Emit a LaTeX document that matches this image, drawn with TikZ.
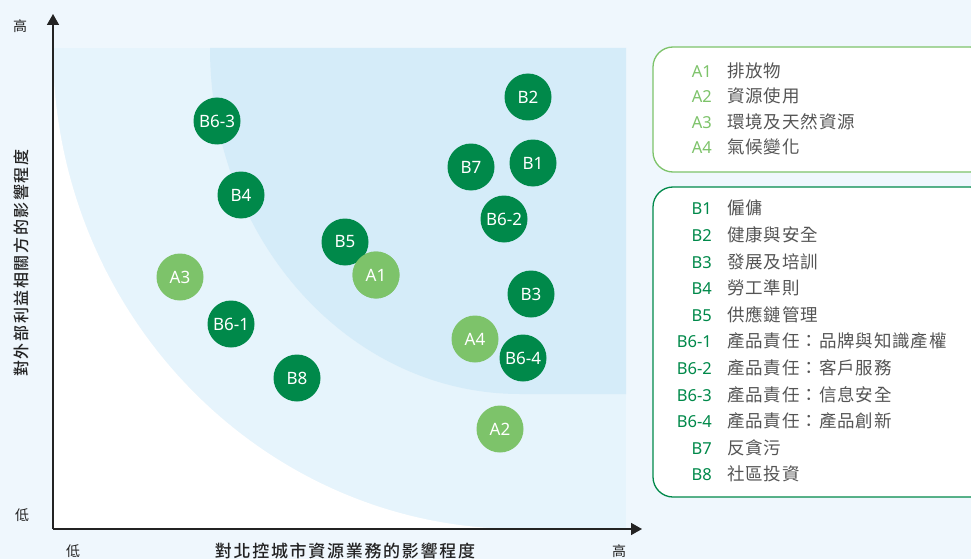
\documentclass[tikz,border=0pt]{standalone}
\usepackage{fontspec}
\setmainfont{Noto Sans}
\newfontfamily\cjk{Noto Sans CJK TC}
\newfontfamily\cjkmid{Noto Sans CJK TC Medium}[LetterSpace=10]
\newfontfamily\cjkwide{Noto Sans CJK TC}[LetterSpace=5]
\usetikzlibrary{arrows.meta}
\definecolor{pagebg}{RGB}{239,247,253}
\definecolor{midband}{RGB}{230,244,252}
\definecolor{innerband}{RGB}{213,236,249}
\definecolor{darkgreen}{RGB}{0,137,74}
\definecolor{lightgreen}{RGB}{125,195,106}
\definecolor{keygray}{RGB}{85,85,85}
\definecolor{axisdark}{RGB}{35,35,35}
\tikzset{
    topic/.style={circle, minimum size=47pt, inner sep=0pt, text=white, font=\fontsize{17}{17}\selectfont},
    keycode/.style={anchor=base east, inner sep=0pt, font=\fontsize{16.5}{16.5}\selectfont},
    keytext/.style={anchor=base west, inner sep=0pt, text=keygray, font=\cjkwide\fontsize{17.5}{17.5}\selectfont},
    axislabel/.style={text=axisdark, inner sep=0pt, font=\cjkmid\fontsize{17}{17}\selectfont},
    endlabel/.style={text=axisdark, inner sep=0pt, font=\cjk\fontsize{14}{14}\selectfont},
    keybox/.style={rounded corners=20pt, fill=white, line width=1.3pt},
}
\newcommand{\drawtopic}[4]{
    % Bubble
    \node[topic, fill=#4] (t#3) at (#1,#2) {#3};
}
\newcommand{\drawkey}[4]{
    % Code and name
    \node[keycode, text=#3] (c#1) at (712,#2) {#1};
    \node[keytext] (d#1) at (727,#2) {#4};
}

\begin{document}
\begin{tikzpicture}[x=1pt, y=-1pt]
        \useasboundingbox (0,0) rectangle (971,559);
        \clip (0,0) rectangle (971,559);
        \fill[pagebg] (0,0) rectangle (971,559);

        % Bands of the matrix
        \fill[midband] (53,48) rectangle (626,529);
        \fill[white] (53,48) arc[start angle=180, end angle=90, x radius=467, y radius=481] -- (53,529) -- cycle;
        \fill[innerband] (210,48) arc[start angle=180, end angle=90, x radius=310, y radius=346] -- (626,394) -- (626,48) -- cycle;

        % Axes
        \coordinate (origin) at (53,529);
        \coordinate (ytop) at (53,14);
        \coordinate (xend) at (642,529);
        \draw[axisdark, line width=1.6pt, -{Triangle[width=12pt, length=11pt]}] (origin) -- (ytop);
        \draw[axisdark, line width=1.6pt, -{Triangle[width=12pt, length=11pt]}] (origin) -- (xend);

        % Axis labels
        \node[endlabel] (yhigh) at (20,26) {高};
        \node[endlabel] (ylow) at (22,515) {低};
        \node[endlabel] (xlow) at (73,551) {低};
        \node[endlabel] (xhigh) at (619,551) {高};
        \node[axislabel, rotate=90, font=\cjkmid\fontsize{16}{16}\selectfont] (ytitle) at (21,263) {對外部利益相關方的影響程度};
        \node[axislabel] (xtitle) at (345,551) {對北控城市資源業務的影響程度};

        % Environmental topics
        \drawtopic{376}{275}{A1}{lightgreen}
        \drawtopic{500}{429}{A2}{lightgreen}
        \drawtopic{180}{277}{A3}{lightgreen}
        \drawtopic{475}{339}{A4}{lightgreen}

        % Social topics
        \drawtopic{533}{163}{B1}{darkgreen}
        \drawtopic{528}{97}{B2}{darkgreen}
        \drawtopic{531}{294}{B3}{darkgreen}
        \drawtopic{241}{195}{B4}{darkgreen}
        \drawtopic{345}{242}{B5}{darkgreen}
        \drawtopic{231}{324}{B6-1}{darkgreen}
        \drawtopic{504}{219}{B6-2}{darkgreen}
        \drawtopic{217}{121}{B6-3}{darkgreen}
        \drawtopic{523}{358}{B6-4}{darkgreen}
        \drawtopic{471}{167}{B7}{darkgreen}
        \drawtopic{297}{378}{B8}{darkgreen}

        % A1 sits on top of B5
        \drawtopic{376}{275}{A1}{lightgreen}

        % Legend boxes
        \draw[keybox, draw=lightgreen] (653,47) rectangle (990,172);
        \draw[keybox, draw=darkgreen] (653,187) rectangle (990,497);

        \drawkey{A1}{77.5}{lightgreen}{排放物}
        \drawkey{A2}{102.8}{lightgreen}{資源使用}
        \drawkey{A3}{128.1}{lightgreen}{環境及天然資源}
        \drawkey{A4}{153.4}{lightgreen}{氣候變化}

        \drawkey{B1}{214.8}{darkgreen}{僱傭}
        \drawkey{B2}{241.4}{darkgreen}{健康與安全}
        \drawkey{B3}{268.0}{darkgreen}{發展及培訓}
        \drawkey{B4}{294.6}{darkgreen}{勞工準則}
        \drawkey{B5}{321.2}{darkgreen}{供應鏈管理}
        \drawkey{B6-1}{347.8}{darkgreen}{產品責任：品牌與知識產權}
        \drawkey{B6-2}{374.4}{darkgreen}{產品責任：客戶服務}
        \drawkey{B6-3}{401.0}{darkgreen}{產品責任：信息安全}
        \drawkey{B6-4}{427.6}{darkgreen}{產品責任：產品創新}
        \drawkey{B7}{454.2}{darkgreen}{反貪污}
        \drawkey{B8}{480.8}{darkgreen}{社區投資}
    \end{tikzpicture}
\end{document}
